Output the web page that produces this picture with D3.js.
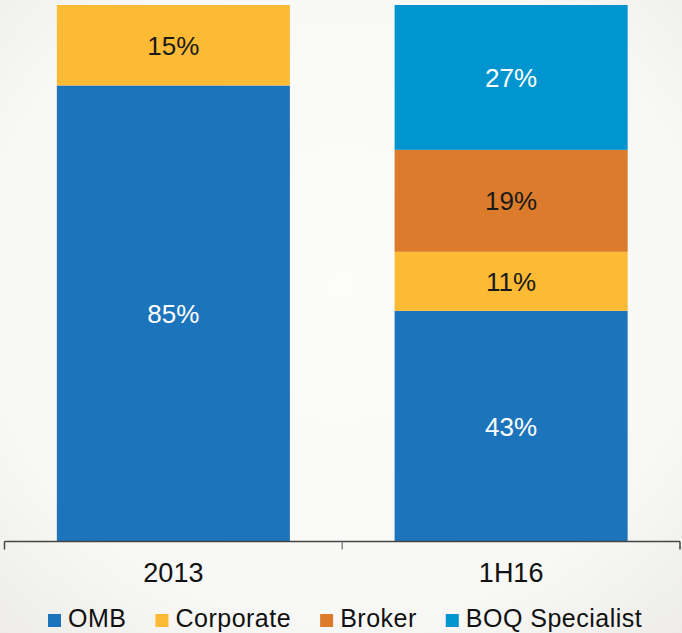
<!DOCTYPE html>
<html>
<head>
<meta charset="utf-8">
<script src="https://cdn.jsdelivr.net/npm/d3@7"></script>
<style>
  html, body { margin: 0; padding: 0; background: #f7f7f5; }
  svg { display: block; font-family: "Liberation Sans", Arial, sans-serif; }
</style>
</head>
<body>
<svg id="chart" width="682" height="633"></svg>
<script>
// ---- data ----
const categories = ["2013", "1H16"];
const seriesNames = ["OMB", "Corporate", "Broker", "BOQ Specialist"];
const OMB = [85, 43];
const Corporate = [15, 11];
const Broker = [0, 19];
const BOQSpecialist = [0, 27];
const seriesColors = ["#1c75bc", "#fdba35", "#dc7b2b", "#0095ce"];
const labelColors = ["#ffffff", "#1a1a1a", "#1a1a1a", "#ffffff"];

const W = 682, H = 633;
const svg = d3.select("#chart");

// background with subtle paper edge shading
const defs = svg.append("defs");
const rg = defs.append("radialGradient").attr("id", "bg").attr("cx", "50%").attr("cy", "45%").attr("r", "75%");
rg.append("stop").attr("offset", "0%").attr("stop-color", "#fcfcfb");
rg.append("stop").attr("offset", "70%").attr("stop-color", "#f8f8f6");
rg.append("stop").attr("offset", "100%").attr("stop-color", "#edece8");
svg.append("rect").attr("width", W).attr("height", H).attr("fill", "url(#bg)");

const table = categories.map((c, i) => ({
  cat: c, OMB: OMB[i], Corporate: Corporate[i], Broker: Broker[i], "BOQ Specialist": BOQSpecialist[i]
}));
const stacked = d3.stack().keys(seriesNames)(table);

const x = d3.scaleBand().domain(categories).range([4.5, 680]).paddingInner(0.31).paddingOuter(0.155);
const y = d3.scaleLinear().domain([0, 100]).range([541.5, 5]);

// bars
stacked.forEach((layer, si) => {
  const g = svg.append("g");
  g.selectAll("rect").data(layer.filter(d => d[1] - d[0] > 0)).join("rect")
    .attr("x", d => x(d.data.cat))
    .attr("width", x.bandwidth())
    .attr("y", d => y(d[1]))
    .attr("height", d => y(d[0]) - y(d[1]))
    .attr("fill", seriesColors[si]);
  g.selectAll("text").data(layer.filter(d => d[1] - d[0] > 0)).join("text")
    .attr("x", d => x(d.data.cat) + x.bandwidth() / 2)
    .attr("y", d => (y(d[0]) + y(d[1])) / 2 + 9.5)
    .attr("text-anchor", "middle")
    .attr("font-size", 26)
    .attr("fill", labelColors[si])
    .text(d => (d[1] - d[0]) + "%");
});

// axis
const ax = svg.append("g").attr("transform", "translate(0,541.5)");
const r0 = x.range()[0], r1 = x.range()[1], step = x.step();
ax.append("line").attr("x1", r0).attr("x2", r1).attr("stroke", "#444").attr("stroke-width", 1.5);
const tickPos = d3.range(categories.length + 1).map(i => r0 + i * step);
ax.selectAll("line.tick").data(tickPos).join("line").attr("class", "tick")
  .attr("x1", d => d).attr("x2", d => d).attr("y1", 0).attr("y2", 8)
  .attr("stroke", (d, i) => i === 1 ? "#888" : "#444").attr("stroke-width", 1.5);

const xAxis = d3.axisBottom(x).tickSize(0).tickPadding(0);
const axG = svg.append("g").attr("transform", "translate(0,541.5)").call(xAxis);
axG.select(".domain").remove();
axG.selectAll("text")
  .attr("font-size", 27).attr("fill", "#111").attr("dy", null).attr("y", 40.5)
  .style("font-family", "'Liberation Sans', Arial, sans-serif");

// legend
const leg = svg.append("g");
let lx = 48;
seriesNames.forEach((name, i) => {
  leg.append("rect").attr("x", lx).attr("y", 614).attr("width", 13).attr("height", 13).attr("fill", seriesColors[i]);
  const t = leg.append("text").attr("x", lx + 20).attr("y", 627)
    .attr("font-size", 25).attr("letter-spacing", "0.5px").attr("fill", "#111").text(name);
  lx = lx + 20 + t.node().getComputedTextLength() + 29;
});
</script>
</body>
</html>
